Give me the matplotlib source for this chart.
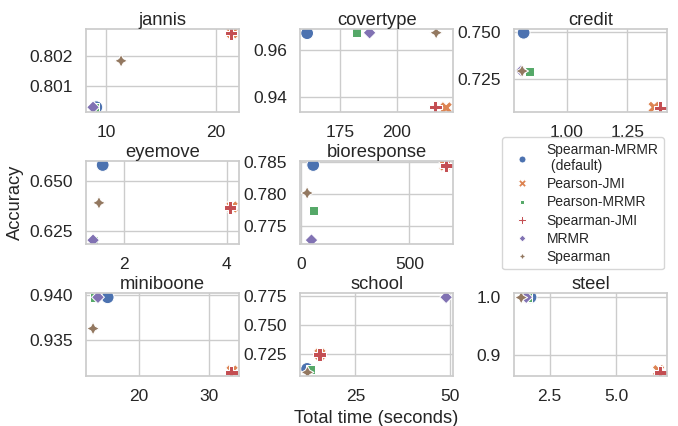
import matplotlib
matplotlib.use('Agg')
import matplotlib.pyplot as plt
import pandas as pd
import seaborn as sns

methods = ['Spearman-MRMR\n (default)', 'Pearson-JMI', 'Pearson-MRMR',
           'Spearman-JMI', 'MRMR', 'Spearman']

datasets = ['jannis', 'covertype', 'credit', 'eyemove', 'bioresponse',
            'miniboone', 'school', 'steel']

# total time (seconds), one value per method
time_jannis = [9.1, 21.5, 8.9, 21.4, 8.8, 11.36]
time_covertype = [160.5, 221.7, 182.4, 216.9, 188.0, 217.3]
time_credit = [0.822, 1.36, 0.847, 1.385, 0.812, 0.816]
time_eyemove = [1.585, 4.10, 1.40, 4.06, 1.398, 1.513]
time_bioresponse = [57, 664, 57, 669, 49, 29]
time_miniboone = [15.57, 33.2, 13.7, 33.1, 14.2, 13.5]
time_school = [12.2, 15.6, 13.2, 15.45, 49.1, 12.3]
time_steel = [1.78, 6.58, 1.67, 6.64, 1.62, 1.43]

# accuracy, one value per method
acc_jannis = [0.80032, 0.80276, 0.80030, 0.80274, 0.80032, 0.80184]
acc_covertype = [0.9674, 0.9353, 0.9676, 0.9356, 0.9676, 0.9676]
acc_credit = [0.7498, 0.7101, 0.7294, 0.7098, 0.7295, 0.7294]
acc_eyemove = [0.6583, 0.6370, 0.6202, 0.6368, 0.6202, 0.6391]
acc_bioresponse = [0.7846, 0.7846, 0.7774, 0.7845, 0.7728, 0.7802]
acc_miniboone = [0.9398, 0.9315, 0.9398, 0.93135, 0.9398, 0.93628]
acc_school = [0.712, 0.7248, 0.7115, 0.7245, 0.7741, 0.709]
acc_steel = [0.9995, 0.873, 0.9995, 0.870, 0.9995, 0.999]

# x tick positions shown in each panel
xticks_all = [[10, 20], [175, 200], [1.00, 1.25], [2, 4], [0, 500],
              [20, 30], [25, 50], [2.5, 5.0]]

times = [time_jannis, time_covertype, time_credit, time_eyemove,
         time_bioresponse, time_miniboone, time_school, time_steel]
accs = [acc_jannis, acc_covertype, acc_credit, acc_eyemove,
        acc_bioresponse, acc_miniboone, acc_school, acc_steel]

sns.set_theme(style='whitegrid', context='notebook', font_scale=1.1)
plt.rcParams['font.family'] = ['Liberation Sans', 'DejaVu Sans']
plt.rcParams['xtick.labelsize'] = 12.5
plt.rcParams['ytick.labelsize'] = 12.5

fig, axes = plt.subplots(3, 3, figsize=(6.78, 4.26), dpi=100)
fig.subplots_adjust(left=0.127, right=0.984, top=0.932, bottom=0.117,
                    wspace=0.40, hspace=0.60)

slots = [(0, 0), (0, 1), (0, 2), (1, 0), (1, 1), (2, 0), (2, 1), (2, 2)]
for name, t, a, xt, (r, c) in zip(datasets, times, accs, xticks_all, slots):
    ax = axes[r, c]
    df = pd.DataFrame({'time': t, 'acc': a, 'method': methods})
    sns.scatterplot(data=df, x='time', y='acc', hue='method', style='method',
                    hue_order=methods, style_order=methods, s=85, ax=ax,
                    legend=(name == 'jannis'))
    ax.set_xticks(xt)
    ax.set_title(name, pad=3)
    ax.set_xlabel('')
    ax.set_ylabel('')
    if name == 'jannis':
        handles, labels = ax.get_legend_handles_labels()
        ax.get_legend().remove()

axes[1, 0].set_ylabel('Accuracy')
axes[2, 1].set_xlabel('Total time (seconds)')

axes[1, 2].axis('off')
axes[1, 2].legend(handles, labels, loc='center', fontsize=10,
                  bbox_to_anchor=(0.45, 0.49), markerscale=0.55,
                  handletextpad=0.8, labelspacing=0.3, borderpad=0.4)

fig.savefig('out.png', dpi=100)
